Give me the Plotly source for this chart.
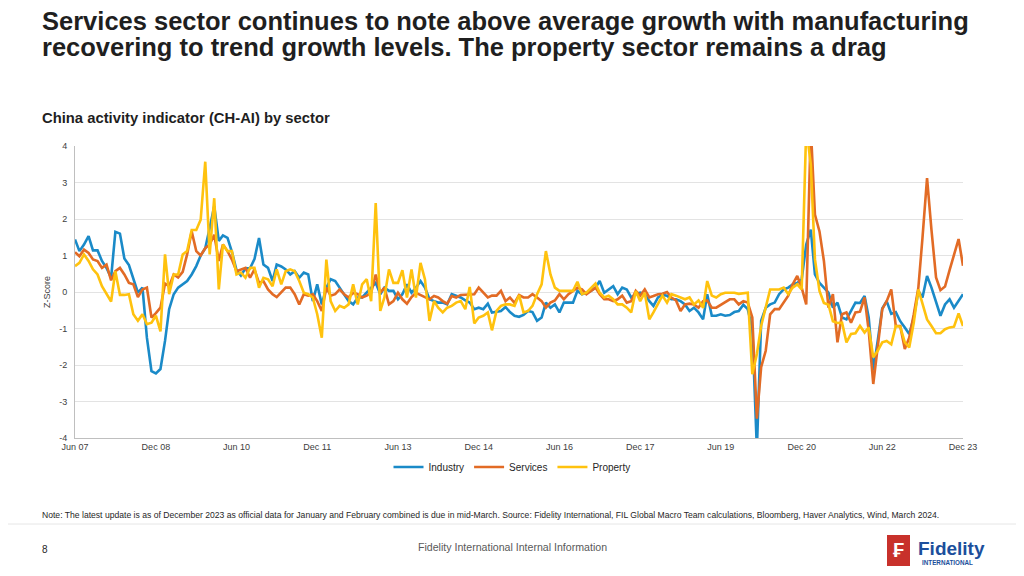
import pandas as pd
import plotly.graph_objects as go

# ---------------- data ----------------
months = pd.date_range("2007-06-01", "2023-12-01", freq="MS")

industry = [1.44, 1.12, 1.3, 1.53, 1.14, 1.14, 0.85, 0.66, 0.39, 1.65, 1.6, 0.92, 0.74, 0.35, -0.02, 0.12,
            -1.25, -2.17, -2.23, -2.11, -1.34, -0.47, -0.06, 0.12, 0.22, 0.3, 0.48, 0.71, 1.0, 1.2, 1.75, 2.35,
            1.4, 1.55, 1.48, 1.1, 0.6, 0.45, 0.65, 0.65, 0.9, 1.48, 0.75, 0.66, 0.3, 0.75, 0.7, 0.62,
            0.48, 0.57, 0.39, 0.53, 0.48, -0.25, 0.21, -0.34, 0.12, 0.35, 0.3, 0.12, -0.06, -0.25, -0.34, -0.15,
            -0.15, -0.02, 0.12, 0.25, -0.06, 0.12, 0.03, 0.03, -0.2, -0.06, 0.21, -0.02, 0.12, 0.3, 0.12, -0.2,
            -0.25, -0.29, -0.29, -0.34, -0.06, -0.1, -0.15, -0.23, -0.29, -0.47, -0.43, -0.47, -0.32, -0.56, -0.54, -0.52,
            -0.41, -0.55, -0.65, -0.68, -0.63, -0.52, -0.55, -0.79, -0.7, -0.29, -0.43, -0.34, -0.56, -0.29, -0.29, -0.29,
            0.03, -0.06, -0.02, 0.03, 0.12, 0.3, -0.02, 0.07, 0.16, -0.06, 0.12, 0.07, -0.15, -0.06, -0.02, -0.06,
            -0.25, -0.38, -0.15, -0.08, -0.1, -0.2, -0.2, -0.25, -0.34, -0.52, -0.43, -0.56, -0.75, -0.06, -0.65, -0.65,
            -0.61, -0.65, -0.63, -0.55, -0.52, -0.35, -0.47, -1.0, -4.3, -0.79, -0.43, -0.34, -0.29, -0.06, 0.07, 0.12,
            0.21, 0.25, 0.35, 1.3, 1.71, 0.48, 0.25, 0.12, -0.02, -0.43, -0.29, -0.7, -0.75, -0.52, -0.29, -0.3,
            -0.11, -0.7, -2.15, -1.34, -0.45, -0.25, -0.6, -0.55, -0.8, -0.97, -1.15, -0.7, 0.03, -0.15, 0.44, 0.12,
            -0.25, -0.65, -0.34, -0.2, -0.43, -0.25, -0.06]

services = [1.09, 0.98, 1.16, 1.07, 0.89, 0.85, 0.66, 0.75, 0.32, 0.57, 0.66, 0.48, 0.25, 0.21, -0.14, 0.07,
            0.12, -0.7, -0.58, -0.43, 0.23, 0.16, 0.48, 0.4, 0.55, 1.03, 1.66, 1.12, 1.0, 1.2, 1.3, 1.57,
            0.85, 1.3, 1.12, 0.89, 0.57, 0.62, 0.66, 0.39, 0.62, 0.25, 0.3, 0.07, -0.06, -0.14, -0.02, 0.12,
            0.12, -0.06, -0.34, -0.06, -0.1, -0.06, -0.25, -0.52, 0.12, -0.1, -0.06, 0.07, -0.06, -0.15, -0.02, -0.06,
            -0.15, -0.1, -0.02, 0.48, -0.02, 0.12, -0.34, -0.25, -0.02, -0.2, -0.32, -0.14, -0.02, -0.08, -0.14, -0.2,
            -0.11, -0.15, -0.25, -0.32, -0.11, -0.15, -0.08, -0.08, -0.08, -0.06, 0.12, -0.02, -0.15, -0.1, -0.1, 0.03,
            -0.25, -0.15, -0.3, -0.08, -0.15, -0.15, -0.06, -0.15, -0.25, -0.43, -0.29, -0.23, -0.06, -0.2, -0.06, 0.03,
            0.12, 0.07, -0.06, 0.03, 0.12, -0.06, -0.2, -0.2, -0.25, -0.2, -0.1, -0.29, -0.25, 0.03, -0.1, 0.07,
            -0.15, -0.11, -0.06, -0.05, 0.0, -0.15, -0.23, -0.52, -0.34, -0.32, -0.34, -0.43, -0.25, -0.23, -0.43, -0.43,
            -0.35, -0.29, -0.2, -0.2, -0.34, -0.25, -0.29, -0.7, -3.47, -2.06, -1.61, -0.61, -0.47, -0.47, -0.29, -0.1,
            0.21, 0.44, 0.12, -0.34, 4.5, 2.12, 1.66, 0.85, -0.43, -0.06, -1.38, -0.61, -0.56, -0.84, -0.56, -0.54,
            -0.15, -1.06, -2.52, -1.52, -0.47, -0.25, 0.07, -0.93, -0.93, -1.56, -1.25, -0.61, 0.12, 1.48, 3.12, 1.7,
            0.4, 0.05, 0.15, 0.6, 1.05, 1.45, 0.72]

property_ = [0.71, 0.8, 1.03, 0.85, 0.62, 0.48, 0.16, -0.06, -0.26, 0.57, -0.08, -0.08, -0.06, -0.61, -0.79, -0.61,
             -0.88, -0.84, -0.65, -1.08, 1.03, -0.06, 0.48, 0.48, 1.03, 1.12, 1.7, 1.7, 1.98, 3.57, 1.03, 2.57,
             0.07, 1.3, 1.12, 1.12, 0.48, 0.53, 0.39, 0.66, 0.66, 0.12, 0.39, 0.35, 0.16, 0.62, 0.21, 0.57,
             0.62, 0.57, 0.3, -0.02, -0.06, -0.15, -0.61, -1.25, 0.89, -0.25, -0.52, -0.38, -0.43, -0.34, 0.21, -0.34,
             0.21, 0.35, -0.25, 2.44, -0.52, -0.15, 0.62, 0.25, 0.25, 0.6, -0.15, 0.62, -0.15, 0.8, 0.35, -0.79,
             -0.25, -0.43, -0.56, -0.43, -0.38, -0.29, -0.25, -0.47, 0.14, -0.86, -0.7, -0.65, -0.56, -1.05, -0.52, -0.38,
             -0.34, -0.34, -0.38, -0.08, -0.56, -0.52, -0.38, -0.06, 0.21, 1.12, 0.48, 0.12, 0.03, 0.03, 0.03, 0.03,
             0.28, -0.06, -0.02, 0.12, 0.23, -0.02, -0.15, -0.1, -0.2, -0.34, -0.34, -0.43, -0.56, 0.03, -0.25, -0.02,
             -0.75, -0.56, -0.34, -0.1, -0.29, -0.06, -0.1, -0.15, -0.2, -0.15, -0.34, -0.23, -0.43, 0.3, -0.1, -0.15,
             -0.06, -0.02, -0.02, -0.02, -0.05, -0.03, -0.02, -2.25, -1.7, -0.93, -0.43, 0.07, 0.07, 0.07, 0.12, -0.06,
             0.12, 0.21, 0.07, 4.5, 3.5, 0.9, 0.03, -0.3, -0.35, -0.8, -0.85, -0.84, -1.38, -1.15, -1.13, -0.93,
             -1.11, -0.97, -1.79, -1.61, -1.38, -1.34, -1.43, -0.93, -0.95, -1.38, -1.52, -0.84, 0.07, -0.34, -0.75, -0.93,
             -1.13, -1.13, -1.02, -0.97, -0.95, -0.59, -0.93]

series_names = ["Industry", "Services", "Property"]
series_colors = ["#1A8AC8", "#E26B25", "#FFC20E"]

x_tick_dates = pd.date_range("2007-06-01", "2023-12-01", freq="18MS")
x_tick_labels = ["Jun 07", "Dec 08", "Jun 10", "Dec 11", "Jun 13", "Dec 14",
                 "Jun 16", "Dec 17", "Jun 19", "Dec 20", "Jun 22", "Dec 23"]
y_tick_vals = [4, 3, 2, 1, 0, -1, -2, -3, -4]
y_tick_labels = ["4", "3", "2", "1", "0", "-1", "-2", "-3", "-4"]

title_lines = ["Services sector continues to note above average growth with manufacturing",
               "recovering to trend growth levels. The property sector remains a drag"]
subtitle = "China activity indicator (CH-AI) by sector"
note = ("Note: The latest update is as of December 2023 as official data for January and February combined is due "
        "in mid-March. Source: Fidelity International, FIL Global Macro Team calculations, Bloomberg, Haver Analytics, "
        "Wind, March 2024.")
footer = "Fidelity International Internal Information"
page_no = "8"

# ---------------- layout helpers ----------------
OFF = 8  # page body margin of the browser
W, H = 1024 - OFF, 576 - OFF
PL, PR, PT, PB = 75, 963, 146, 438   # plot area in screen pixels
FONT = "Liberation Sans, Arial, sans-serif"


def px(x):
    return (x - PL) / (PR - PL)


def py(y):
    return (PB - y) / (PB - PT)


fig = go.Figure()
for name, vals, col in zip(series_names, [industry, services, property_], series_colors):
    fig.add_trace(go.Scatter(x=months, y=vals, mode="lines", name=name,
                             line=dict(color=col, width=2.6)))

fig.update_layout(
    width=W, height=H, autosize=False,
    margin=dict(l=PL - OFF, r=1024 - PR, t=PT - OFF, b=576 - PB),
    paper_bgcolor="white", plot_bgcolor="white",
    font=dict(family=FONT, color="#404040", size=9),
    showlegend=True,
    legend=dict(orientation="h", x=px(512), xanchor="center", y=py(467), yanchor="middle",
                font=dict(size=10, color="#262626"), itemwidth=30, tracegroupgap=0,
                bgcolor="rgba(0,0,0,0)"),
)

fig.update_xaxes(
    range=[months[0], months[-1]], tickmode="array", tickvals=x_tick_dates, ticktext=x_tick_labels,
    showgrid=False, showline=True, linecolor="#BFBFBF", linewidth=1, ticks="",
    tickfont=dict(size=9, color="#404040"), zeroline=False,
)
fig.update_yaxes(
    range=[-4, 4], tickmode="array", tickvals=y_tick_vals, ticktext=y_tick_labels,
    showgrid=True, gridcolor="#E3E3E3", gridwidth=1, showline=True, linecolor="#BFBFBF",
    linewidth=1, ticks="", zeroline=False, tickfont=dict(size=9, color="#404040"),
    ticklabelstandoff=5,
)

ann = []
ann.append(dict(text="<b>" + title_lines[0] + "</b>", x=px(40), y=py(21), xanchor="left", yanchor="middle",
                font=dict(size=25.5, color="#1F1F1F", family=FONT)))
ann.append(dict(text="<b>" + title_lines[1] + "</b>", x=px(40), y=py(47), xanchor="left", yanchor="middle",
                font=dict(size=25.5, color="#1F1F1F", family=FONT)))
ann.append(dict(text="<b>" + subtitle + "</b>", x=px(40), y=py(118), xanchor="left", yanchor="middle",
                font=dict(size=14.8, color="#1F1F1F", family=FONT)))
ann.append(dict(text="Z-Score", x=px(47), y=py(292), xanchor="center", yanchor="middle", textangle=-90,
                font=dict(size=9, color="#404040", family=FONT)))
ann.append(dict(text=note, x=px(40), y=py(515), xanchor="left", yanchor="middle",
                font=dict(size=8.6, color="#262626", family=FONT)))
ann.append(dict(text=page_no, x=px(40), y=py(549), xanchor="left", yanchor="middle",
                font=dict(size=10, color="#262626", family=FONT)))
ann.append(dict(text=footer, x=px(512), y=py(547), xanchor="center", yanchor="middle",
                font=dict(size=10.6, color="#595959", family=FONT)))
# logo
ann.append(dict(text="<b>₣</b>", x=px(898.5), y=py(550), xanchor="center", yanchor="middle",
                font=dict(size=20, color="white", family=FONT)))
ann.append(dict(text="<b>Fidelity</b>", x=px(916), y=py(548), xanchor="left", yanchor="middle",
                font=dict(size=19, color="#1C4F9C", family=FONT)))
ann.append(dict(text="<b>INTERNATIONAL</b>", x=px(920), y=py(562), xanchor="left", yanchor="middle",
                font=dict(size=6.3, color="#1C4F9C", family=FONT)))
for a in ann:
    a.update(xref="paper", yref="paper", showarrow=False)
fig.update_layout(annotations=ann)

fig.update_layout(shapes=[
    dict(type="line", xref="paper", yref="paper", x0=px(OFF), x1=px(1024), y0=py(524), y1=py(524),
         line=dict(color="#E6E6E6", width=1)),
    dict(type="rect", xref="paper", yref="paper", x0=px(887), x1=px(910), y0=py(535), y1=py(566),
         fillcolor="#C8312B", line=dict(width=0)),
])

fig.write_html("out.html")
